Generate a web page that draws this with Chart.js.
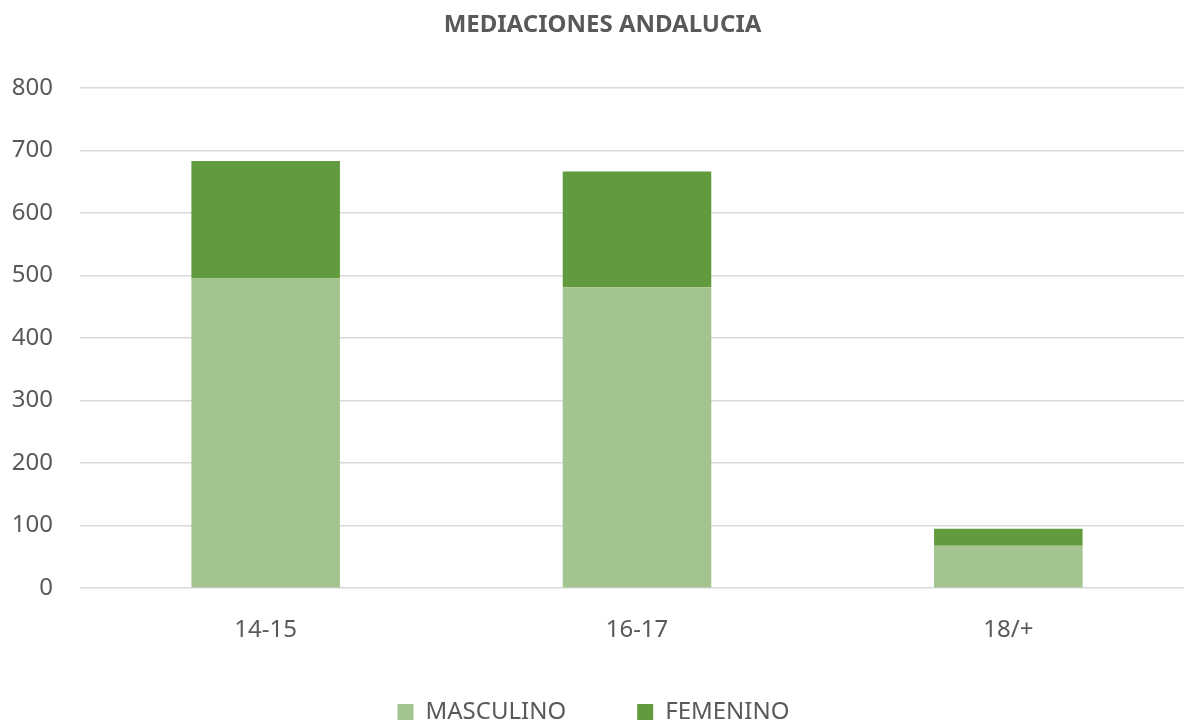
<!DOCTYPE html>
<html>
<head>
<meta charset="utf-8">
<script src="https://cdn.jsdelivr.net/npm/chart.js@4.4.0/dist/chart.umd.min.js"></script>
<style>
  html, body { margin: 0; padding: 0; background: #ffffff; overflow: hidden; }
  #wrap { position: relative; width: 1194px; height: 778px; }
</style>
</head>
<body>
<div id="wrap"><canvas id="c"></canvas></div>
<script>
const categories = ['14-15', '16-17', '18/+'];
const masculino = [495, 481, 68];
const femenino = [188, 185, 27];
const yTicks = [0, 100, 200, 300, 400, 500, 600, 700, 800];

const FONT = '"Noto Sans", "Open Sans", sans-serif';
const TEXT = '#595959';
const LEGEND_PAD = 71;

const legendMover = {
  id: 'legendMover',
  afterLayout(chart) {
    const L = chart.legend;
    if (!L) return;
    const h = L.bottom - L.top;
    L.top = 712 - LEGEND_PAD - 12;
    L.bottom = L.top + h;
    L.left -= 9;
    L.right -= 9;
  }
};

new Chart(document.getElementById('c'), {
  type: 'bar',
  data: {
    labels: categories,
    datasets: [
      { label: 'MASCULINO', data: masculino, backgroundColor: '#A3C48F', borderWidth: 0 },
      { label: 'FEMENINO', data: femenino, backgroundColor: '#629A3E', borderWidth: 0 }
    ]
  },
  plugins: [legendMover],
  options: {
    responsive: true,
    maintainAspectRatio: false,
    animation: false,
    layout: { padding: { top: 0, left: 11, right: 0, bottom: 0 } },
    datasets: { bar: { categoryPercentage: 1.0, barPercentage: 0.4 } },
    plugins: {
      title: {
        display: true,
        text: 'MEDIACIONES ANDALUCIA',
        color: TEXT,
        font: { family: FONT, size: 24, weight: 'bold' },
        padding: { top: 11, bottom: 48 }
      },
      legend: {
        position: 'bottom',
        labels: {
          color: TEXT,
          font: { family: FONT, size: 24 },
          boxWidth: 16,
          boxHeight: 16,
          padding: LEGEND_PAD
        }
      },
      tooltip: { enabled: false }
    },
    scales: {
      x: {
        stacked: true,
        grid: { display: false, drawTicks: false },
        border: { display: false },
        ticks: { color: TEXT, font: { family: FONT, size: 24 }, padding: 28 }
      },
      y: {
        stacked: true,
        min: 0,
        max: 800,
        afterBuildTicks: (axis) => { axis.ticks = yTicks.map(v => ({ value: v })); },
        afterFit: (axis) => { axis.width = 69; },
        grid: { color: '#D9D9D9', lineWidth: 1.5, drawTicks: false },
        border: { display: false },
        ticks: { color: TEXT, font: { family: FONT, size: 24 }, padding: 27 }
      }
    }
  }
});
</script>
</body>
</html>
